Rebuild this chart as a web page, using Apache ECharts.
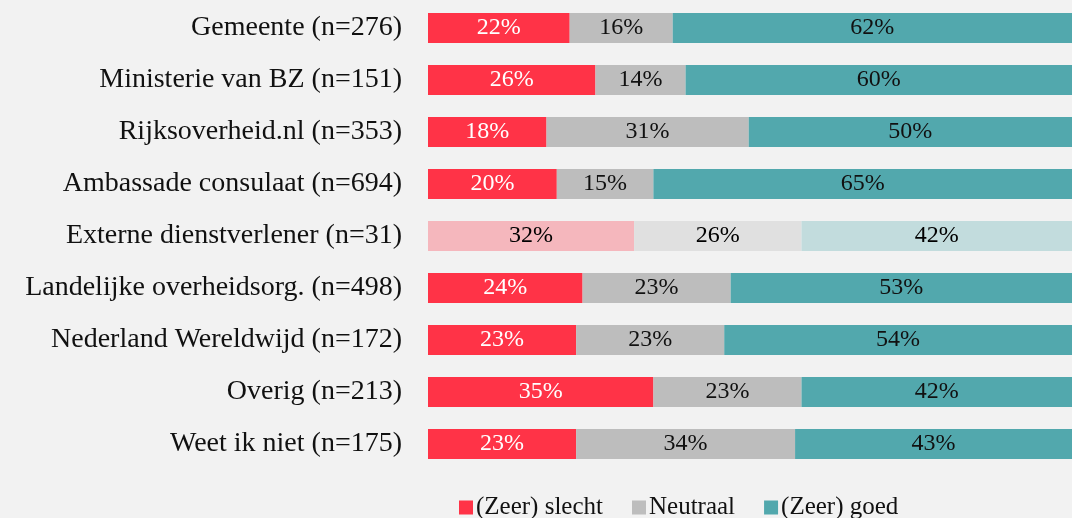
<!DOCTYPE html>
<html>
<head>
<meta charset="utf-8">
<script src="https://cdn.jsdelivr.net/npm/echarts@6/dist/echarts.min.js"></script>
<style>
  html, body { margin: 0; padding: 0; background: #f2f2f2; }
  #chart { width: 1072px; height: 518px; }
</style>
</head>
<body>
<div id="chart"></div>
<script>
const categories = [
  "Gemeente (n=276)",
  "Ministerie van BZ (n=151)",
  "Rijksoverheid.nl (n=353)",
  "Ambassade consulaat (n=694)",
  "Externe dienstverlener (n=31)",
  "Landelijke overheidsorg. (n=498)",
  "Nederland Wereldwijd (n=172)",
  "Overig (n=213)",
  "Weet ik niet (n=175)"
];
const slecht = [22, 26, 18.4, 20, 32, 24, 23, 35, 23];
const neutraal = [16, 14, 31.4, 15, 26, 23, 23, 23, 34];
const goed = [62, 60, 50.2, 65, 42, 53, 54, 42, 43];
const fadedRow = 4;

const COLORS = { slecht: "#ff3347", neutraal: "#bdbdbd", goed: "#52a8ad" };
const FADED = { slecht: "#f5b7bd", neutraal: "#e0e0e0", goed: "#c2dcdd" };
const FONT = "'Liberation Serif', 'DejaVu Serif', serif";

function buildData(values, key) {
  return values.map((value, i) => {
    if (i !== fadedRow) return value;
    return {
      value,
      itemStyle: { color: FADED[key] },
      label: { color: "#000" }
    };
  });
}

function makeSeries(name, key, values, labelColor) {
  return {
    name,
    type: "bar",
    stack: "total",
    barWidth: 30,
    data: buildData(values, key),
    itemStyle: { color: COLORS[key] },
    label: {
      show: true,
      position: "inside",
      color: labelColor,
      fontFamily: FONT,
      fontSize: 24,
      formatter: (p) => `${Math.round(p.value)}%`
    },
    emphasis: { disabled: true }
  };
}

const chart = echarts.init(document.getElementById("chart"), null, { renderer: "canvas" });
chart.setOption({
  backgroundColor: "#f2f2f2",
  animation: false,
  grid: { left: 428, right: 0, top: 2, height: 468 },
  xAxis: {
    type: "value",
    min: 0,
    max: 100,
    show: false
  },
  yAxis: {
    type: "category",
    inverse: true,
    data: categories,
    axisLine: { show: false },
    axisTick: { show: false },
    axisLabel: {
      margin: 26,
      color: "#111",
      fontFamily: FONT,
      fontSize: 28
    }
  },
  legend: {
    top: 490,
    left: 454,
    itemWidth: 14,
    itemHeight: 14,
    itemGap: 29,
    icon: "rect",
    textStyle: { color: "#111", fontFamily: FONT, fontSize: 25, padding: [0, 0, 0, -2] },
    data: ["(Zeer) slecht", "Neutraal", "(Zeer) goed"]
  },
  series: [
    makeSeries("(Zeer) slecht", "slecht", slecht, "#fff"),
    makeSeries("Neutraal", "neutraal", neutraal, "#111"),
    makeSeries("(Zeer) goed", "goed", goed, "#111")
  ]
});
</script>
</body>
</html>
